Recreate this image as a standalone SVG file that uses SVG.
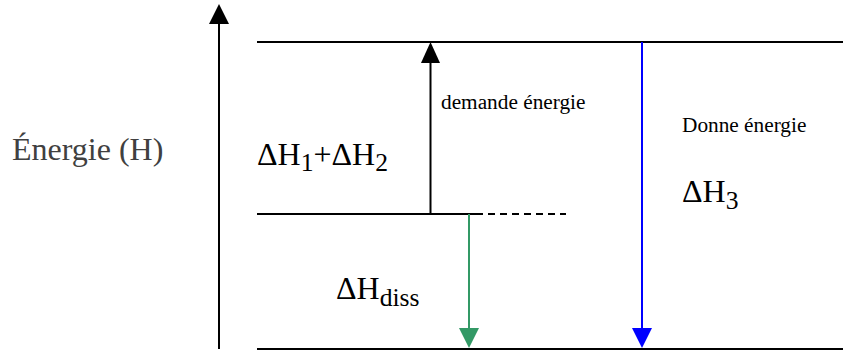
<svg xmlns="http://www.w3.org/2000/svg" width="843" height="351" viewBox="0 0 843 351">
<style>
  .lvl{stroke:#000;stroke-width:2;fill:none}
  .big{font-family:"Liberation Serif","Times New Roman",serif;font-size:32px;fill:#000}
  .sub{font-size:25.6px}
  .small{font-family:"Liberation Serif","Times New Roman",serif;font-size:21.3px;fill:#000}
  .axislabel{font-family:"Liberation Serif","Times New Roman",serif;font-size:32px;fill:#404040}
</style>
<rect width="843" height="351" fill="#fff"/>
<g id="axis">
  <line x1="219" y1="349" x2="219" y2="22" stroke="#000" stroke-width="2"/>
  <polygon points="209,24 229,24 219,4" fill="#000"/>
  <text class="axislabel" x="12" y="160">Énergie (H)</text>
</g>
<g id="level-top">
  <line class="lvl" x1="257" y1="42" x2="843" y2="42"/>
</g>
<g id="level-middle">
  <line class="lvl" x1="257" y1="214" x2="476" y2="214"/>
  <line class="lvl" x1="476" y1="214" x2="566" y2="214" stroke-dasharray="7 5"/>
</g>
<g id="level-bottom">
  <line class="lvl" x1="257" y1="349" x2="843" y2="349"/>
</g>
<g id="connectors">
  <g id="arrow-up">
    <line x1="430.5" y1="214" x2="430.5" y2="60" stroke="#000" stroke-width="2"/>
    <polygon points="421,63 440,63 430.5,42" fill="#000"/>
  </g>
  <g id="arrow-diss">
    <line x1="469" y1="214" x2="469" y2="331" stroke="#339966" stroke-width="2"/>
    <polygon points="459,328 479,328 469,348" fill="#339966"/>
  </g>
  <g id="arrow-h3">
    <line x1="642" y1="42" x2="642" y2="331" stroke="#0000ff" stroke-width="2"/>
    <polygon points="632,328 652,328 642,348" fill="#0000ff"/>
  </g>
</g>
<g id="labels">
  <text class="big" x="257" y="165">ΔH<tspan class="sub" dy="6">1</tspan><tspan dy="-6">+ΔH</tspan><tspan class="sub" dy="6">2</tspan></text>
  <text class="small" x="441" y="109">demande énergie</text>
  <text class="small" x="682" y="132">Donne énergie</text>
  <text class="big" x="682" y="202">ΔH<tspan class="sub" dy="7">3</tspan></text>
  <text class="big" x="336" y="299">ΔH<tspan class="sub" dy="7">diss</tspan></text>
</g>
</svg>
